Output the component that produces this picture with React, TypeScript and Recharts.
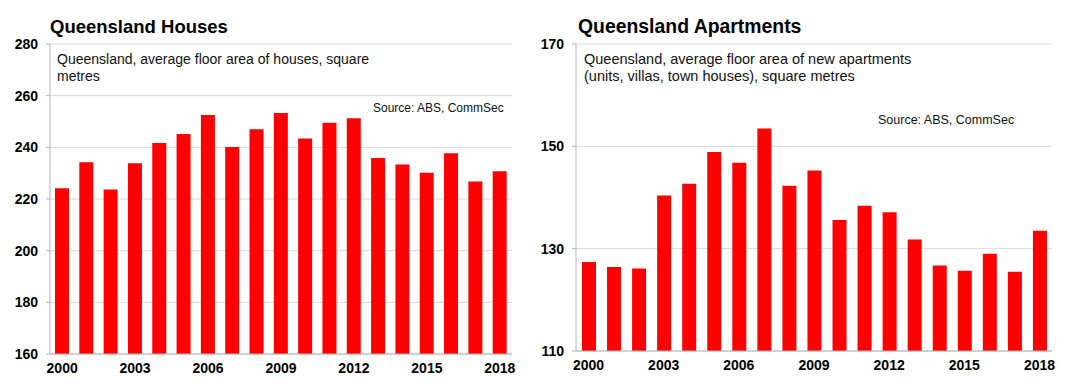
import { BarChart, Bar, XAxis, YAxis, CartesianGrid } from "recharts";

const years = [
  "2000", "2001", "2002", "2003", "2004", "2005", "2006", "2007", "2008", "2009",
  "2010", "2011", "2012", "2013", "2014", "2015", "2016", "2017", "2018",
];

const housesArea = [
  224.2, 234.2, 223.7, 233.8, 241.7, 245.2, 252.5, 240.1, 247.0, 253.3,
  243.4, 249.5, 251.3, 235.9, 233.4, 230.2, 237.7, 226.8, 230.7,
];

const apartmentsArea = [
  127.4, 126.4, 126.1, 140.4, 142.7, 148.9, 146.8, 153.5, 142.3, 145.3,
  135.6, 138.4, 137.1, 131.8, 126.7, 125.7, 129.0, 125.5, 133.5,
];

const housesTicks = [160, 180, 200, 220, 240, 260, 280];
const apartmentsTicks = [110, 130, 150, 170];

const font = "'Liberation Sans', Arial, Helvetica, sans-serif";
const borderColor = "#b5b5b5";
const gridColor = "#d8d8d8";

const housesData = years.map((year, i) => ({ year, value: housesArea[i] }));
const apartmentsData = years.map((year, i) => ({ year, value: apartmentsArea[i] }));

const tickStyle = { fill: "#000", fontSize: 14, fontWeight: 700, fontFamily: font };

type PanelProps = {
  data: { year: string; value: number }[];
  ticks: number[];
  width: number;
  yAxisWidth: number;
  marginRight: number;
  marginBottom: number;
};

function Panel({ data, ticks, width, yAxisWidth, marginRight, marginBottom }: PanelProps) {
  const domain = [ticks[0], ticks[ticks.length - 1]];
  return (
    <BarChart
      width={width}
      height={392}
      data={data}
      margin={{ top: 44, right: marginRight, bottom: marginBottom, left: 0 }}
      barSize={14}
    >
      <CartesianGrid vertical={false} stroke={gridColor} />
      <XAxis
        dataKey="year"
        interval={2}
        tickLine={false}
        tickSize={0}
        tickMargin={9}
        height={30}
        axisLine={{ stroke: borderColor }}
        tick={tickStyle}
      />
      <XAxis
        xAxisId="top"
        dataKey="year"
        orientation="top"
        height={0}
        tick={false}
        tickLine={false}
        axisLine={{ stroke: borderColor }}
      />
      <YAxis
        domain={domain}
        ticks={ticks}
        width={yAxisWidth}
        tickSize={4}
        tickMargin={8}
        allowDataOverflow
        axisLine={{ stroke: borderColor }}
        tickLine={{ stroke: borderColor }}
        tick={tickStyle}
      />
      <YAxis
        yAxisId="right"
        orientation="right"
        domain={domain}
        width={0}
        tick={false}
        tickLine={false}
        axisLine={{ stroke: borderColor }}
      />
      <Bar dataKey="value" fill="#ff0000" isAnimationActive={false} />
    </BarChart>
  );
}

const abs = (style: React.CSSProperties): React.CSSProperties => ({
  position: "absolute",
  fontFamily: font,
  color: "#111",
  whiteSpace: "nowrap",
  ...style,
});

export default function App() {
  return (
    <div
      style={{
        position: "absolute",
        left: 0,
        top: 0,
        width: 1071,
        height: 392,
        background: "#fff",
        overflow: "hidden",
      }}
    >
      <div style={{ position: "absolute", left: 0, top: 0 }}>
        <Panel
          data={housesData}
          ticks={housesTicks}
          width={535}
          yAxisWidth={50}
          marginRight={23}
          marginBottom={8}
        />
      </div>
      <div style={{ position: "absolute", left: 535, top: 0 }}>
        <Panel
          data={apartmentsData}
          ticks={apartmentsTicks}
          width={536}
          yAxisWidth={41}
          marginRight={19}
          marginBottom={11}
        />
      </div>

      <div style={abs({ left: 50, top: 16, fontSize: 18.5, fontWeight: 700, color: "#000", lineHeight: "22px" })}>
        Queensland Houses
      </div>
      <div style={abs({ left: 578, top: 15, fontSize: 19.4, fontWeight: 700, color: "#000", lineHeight: "23px" })}>
        Queensland Apartments
      </div>

      <div style={abs({ left: 57, top: 51, fontSize: 14, lineHeight: "17px" })}>
        Queensland, average floor area of houses, square
        <br />
        metres
      </div>
      <div style={abs({ left: 373, top: 100, width: 130, textAlign: "right", fontSize: 12, lineHeight: "16px" })}>
        Source: ABS, CommSec
      </div>

      <div style={abs({ left: 584, top: 51, fontSize: 14.5, lineHeight: "16.7px" })}>
        Queensland, average floor area of new apartments
        <br />
        (units, villas, town houses), square metres
      </div>
      <div style={abs({ left: 878, top: 112, fontSize: 12.5, lineHeight: "16px" })}>
        Source: ABS, CommSec
      </div>
    </div>
  );
}
